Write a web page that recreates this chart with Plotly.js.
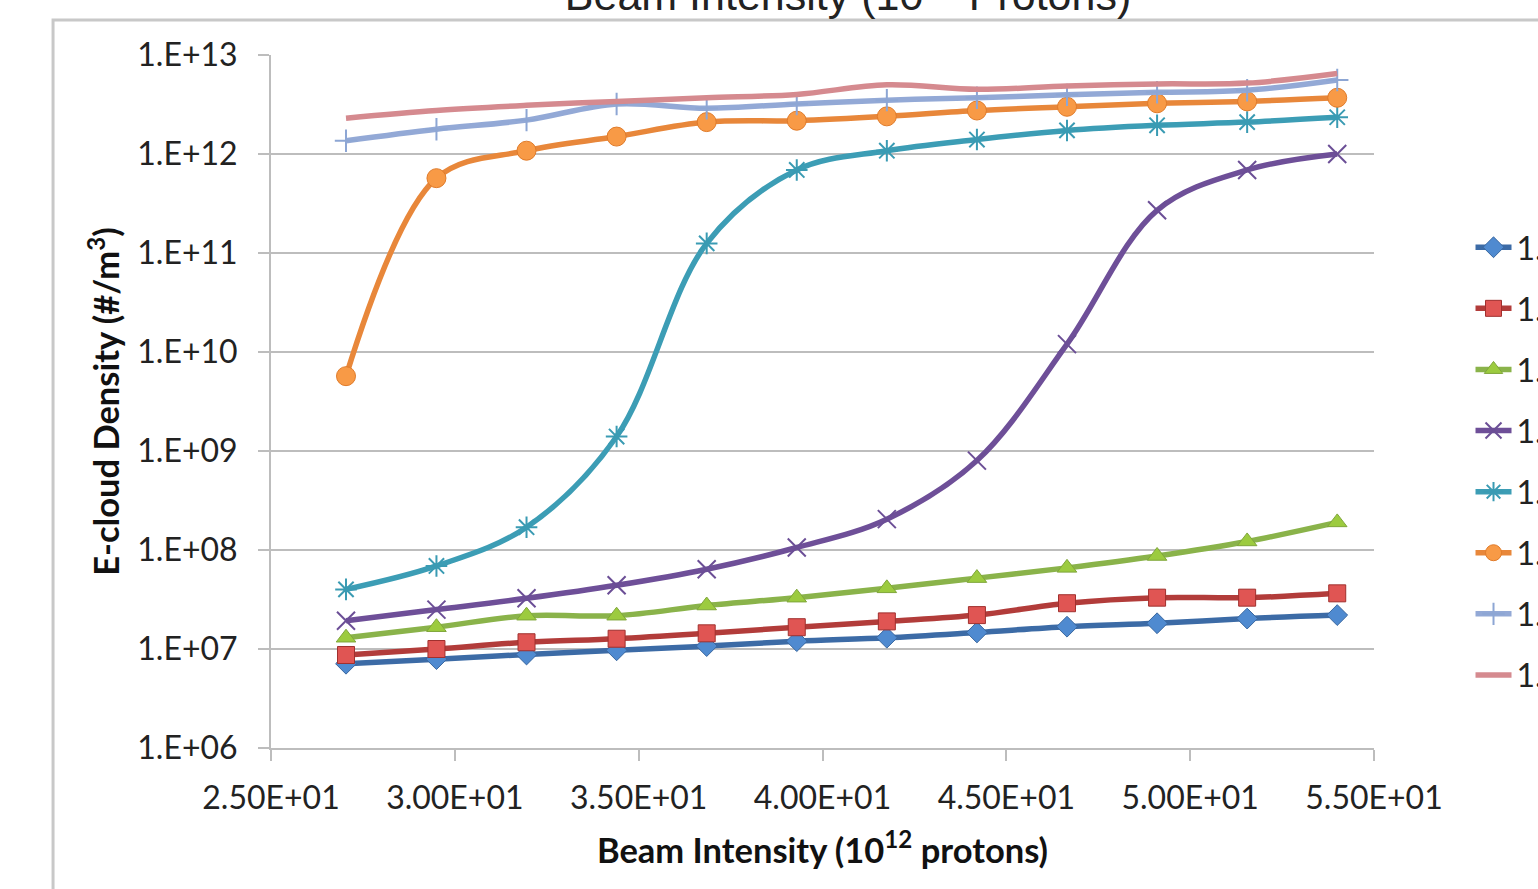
<!DOCTYPE html>
<html>
<head>
<meta charset="utf-8">
<script src="https://cdn.plot.ly/plotly-3.0.1.min.js"></script>
<style>
  html, body { margin: 0; padding: 0; background: #ffffff; overflow: hidden; }
  #chart { width: 1538px; height: 889px; }
</style>
</head>
<body>
<div id="chart"></div>
<script>
// Beam intensity (10^12 protons)
const beamIntensity = [27.04, 29.5, 31.95, 34.4, 36.85, 39.3, 41.75, 44.2, 46.65, 49.1, 51.55, 54.0];

// E-cloud density (#/m^3) per series
const s1 = [7.1e6, 7.9e6, 8.8e6, 9.7e6, 1.07e7, 1.2e7, 1.3e7, 1.47e7, 1.68e7, 1.82e7, 2.03e7, 2.2e7];
const s2 = [8.7e6, 1.0e7, 1.17e7, 1.27e7, 1.44e7, 1.66e7, 1.9e7, 2.2e7, 2.9e7, 3.3e7, 3.3e7, 3.65e7];
const s3 = [1.3e7, 1.66e7, 2.17e7, 2.17e7, 2.75e7, 3.3e7, 4.1e7, 5.2e7, 6.6e7, 8.7e7, 1.22e8, 1.9e8];
const s4 = [1.93e7, 2.5e7, 3.25e7, 4.4e7, 6.4e7, 1.06e8, 2.05e8, 8.0e8, 1.2e10, 2.7e11, 6.9e11, 1.0e12];
const s5 = [4.0e7, 6.9e7, 1.7e8, 1.4e9, 1.25e11, 6.9e11, 1.08e12, 1.4e12, 1.73e12, 1.95e12, 2.1e12, 2.35e12];
const s6 = [5.7e9, 5.7e11, 1.08e12, 1.5e12, 2.1e12, 2.17e12, 2.4e12, 2.75e12, 3.0e12, 3.25e12, 3.4e12, 3.7e12];
const s7 = [1.36e12, 1.78e12, 2.2e12, 3.2e12, 2.9e12, 3.2e12, 3.5e12, 3.7e12, 3.96e12, 4.2e12, 4.4e12, 5.6e12];
const s8 = [2.3e12, 2.75e12, 3.1e12, 3.4e12, 3.7e12, 4.0e12, 5.0e12, 4.5e12, 4.85e12, 5.1e12, 5.2e12, 6.5e12];

const seriesNames = ["1.1", "1.2", "1.3", "1.4", "1.5", "1.6", "1.7", "1.8"];

const yTickVals = [1e6, 1e7, 1e8, 1e9, 1e10, 1e11, 1e12, 1e13];
const yTickText = ["1.E+06", "1.E+07", "1.E+08", "1.E+09", "1.E+10", "1.E+11", "1.E+12", "1.E+13"];
const xTickVals = [25, 30, 35, 40, 45, 50, 55];
const xTickText = ["2.50E+01", "3.00E+01", "3.50E+01", "4.00E+01", "4.50E+01", "5.00E+01", "5.50E+01"];

const seriesData = [s1, s2, s3, s4, s5, s6, s7, s8];
const styles = [
  {line: '#3C6BA6', mode: 'lines+markers', marker: {symbol: 'diamond', size: 16, color: '#4F8AD0', line: {color: '#3A68A0', width: 1}}},
  {line: '#B23C3A', mode: 'lines+markers', marker: {symbol: 'square', size: 17, color: '#E05553', line: {color: '#A0302E', width: 1}}},
  {line: '#8AB34A', mode: 'lines+markers', marker: {symbol: 'triangle-up', size: 17, color: '#9CCB3F', line: {color: '#7FA63A', width: 1}}},
  {line: '#6E4F98', mode: 'lines+markers', marker: {symbol: 'x-thin-open', size: 18, color: '#6B4E96', line: {color: '#6B4E96', width: 2}}},
  {line: '#3C9DB5', mode: 'lines+markers', marker: {symbol: 'asterisk-open', size: 18, color: '#3A9BB3', line: {color: '#3A9BB3', width: 2}}},
  {line: '#E8873A', mode: 'lines+markers', marker: {symbol: 'circle', size: 19, color: '#F89A46', line: {color: '#E07B2A', width: 1}}},
  {line: '#93A9D6', mode: 'lines+markers', marker: {symbol: 'cross-thin-open', size: 16, color: '#8DA6D4', line: {color: '#8DA6D4', width: 2}}},
  {line: '#D58A8F', mode: 'lines', marker: {size: 1}}
];

const traces = seriesData.map((ys, i) => ({
  type: 'scatter',
  x: beamIntensity,
  y: ys,
  name: seriesNames[i],
  legendgroup: 'g' + i,
  mode: styles[i].mode,
  line: {color: styles[i].line, width: 5.5, shape: 'spline', smoothing: 1},
  marker: styles[i].marker
}));

const gridCol = '#bdbdbd';
const fontFam = 'Lato, "Open Sans", sans-serif';

const layout = {
  width: 1538,
  height: 889,
  margin: {l: 271, r: 164, t: 55, b: 141, autoexpand: false},
  paper_bgcolor: '#ffffff',
  plot_bgcolor: '#ffffff',
  font: {family: fontFam, size: 32, color: '#222222'},
  title: {
    text: 'Beam Intensity (10<sup>12</sup> Protons)',
    font: {family: '"Liberation Sans", Arial, sans-serif', size: 43, color: '#222222'},
    xref: 'container', x: 0.5514, xanchor: 'center',
    yref: 'container', y: 0.9888, yanchor: 'bottom'
  },
  xaxis: {
    range: [25, 55],
    tickvals: xTickVals,
    ticktext: xTickText,
    ticks: 'outside', ticklen: 11, tickwidth: 2, tickcolor: gridCol,
    ticklabelstandoff: 10,
    showline: true, linecolor: gridCol, linewidth: 2,
    showgrid: false, zeroline: false,
    tickfont: {family: fontFam, size: 32, color: '#222222'},
    title: {text: '<b>Beam Intensity (10<sup>12</sup> protons)</b>', font: {family: fontFam, size: 34.5, color: '#111111'}, standoff: 23}
  },
  yaxis: {
    type: 'log',
    range: [6, 13],
    tickvals: yTickVals,
    ticktext: yTickText,
    ticks: 'outside', ticklen: 11, tickwidth: 2, tickcolor: gridCol,
    ticklabelstandoff: 14,
    showline: true, linecolor: gridCol, linewidth: 2,
    showgrid: true, gridcolor: gridCol, gridwidth: 2,
    zeroline: false,
    tickfont: {family: fontFam, size: 32, color: '#222222'},
    title: {text: '<b>E-cloud Density (#/m<sup>3</sup>)</b>', font: {family: fontFam, size: 34.5, color: '#111111'}, standoff: 7}
  },
  showlegend: true,
  legend: {
    x: 1.0875, xanchor: 'left',
    y: 0.762, yanchor: 'top',
    traceorder: 'grouped',
    tracegroupgap: 16.5,
    itemwidth: 36,
    bgcolor: 'rgba(0,0,0,0)',
    font: {family: fontFam, size: 32, color: '#222222'}
  },
  shapes: [{
    type: 'rect', xref: 'paper', yref: 'paper',
    x0: -0.1976, x1: 1.6, y0: -0.6, y1: 1.0505,
    line: {color: '#c8c8c8', width: 3},
    fillcolor: 'rgba(0,0,0,0)',
    layer: 'below'
  }]
};

Plotly.newPlot('chart', traces, layout, {displayModeBar: false, staticPlot: true});
</script>
</body>
</html>
